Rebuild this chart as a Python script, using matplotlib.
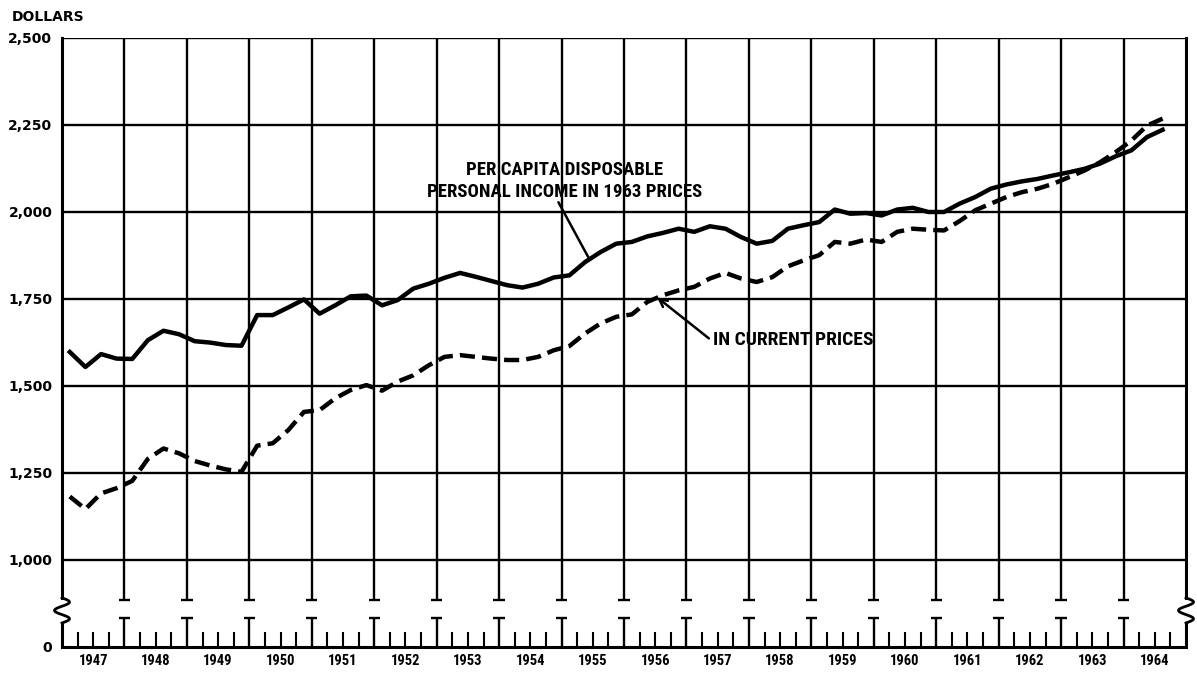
import numpy as np
import matplotlib
matplotlib.use("Agg")
import matplotlib.pyplot as plt
from matplotlib import font_manager

# quarterly per capita disposable personal income, 1947 Q1 - 1964 Q3 (dollars)
first_year = 1947
last_year = 1964
income_1963_prices = [
    1597, 1554, 1591, 1578,
    1577, 1631, 1658, 1648,
    1628, 1624, 1617, 1615,
    1703, 1703, 1725, 1748,
    1707, 1731, 1757, 1759,
    1731, 1746, 1779, 1793,
    1810, 1824, 1813, 1801,
    1789, 1782, 1793, 1811,
    1817, 1855, 1884, 1908,
    1913, 1929, 1939, 1951,
    1942, 1958, 1951, 1927,
    1908, 1916, 1951, 1961,
    1970, 2006, 1994, 1996,
    1989, 2006, 2011, 1999,
    1999, 2023, 2042, 2066,
    2078, 2087, 2094, 2104,
    2113, 2123, 2138, 2159,
    2176, 2214, 2235,
]
income_current_prices = [
    1182, 1146, 1191, 1206,
    1227, 1290, 1320, 1306,
    1284, 1271, 1260, 1253,
    1328, 1335, 1373, 1425,
    1430, 1464, 1488, 1502,
    1486, 1512, 1530, 1559,
    1583, 1588, 1583, 1578,
    1574, 1574, 1583, 1602,
    1614, 1650, 1679, 1698,
    1705, 1741, 1760, 1774,
    1784, 1808, 1824, 1808,
    1798, 1812, 1843, 1860,
    1875, 1913, 1908, 1920,
    1913, 1942, 1951, 1948,
    1946, 1973, 2004, 2023,
    2042, 2056, 2066, 2080,
    2099, 2118, 2142, 2171,
    2204, 2247, 2267,
]
grid_values = [1000, 1250, 1500, 1750, 2000, 2250, 2500]
tick_labels = ["0", "1,000", "1,250", "1,500", "1,750", "2,000", "2,250", "2,500"]
year_labels = [str(y) for y in range(first_year, last_year + 1)]

# the axis is broken: "0" sits one grid step below 1,000
ZERO_POS = 750
BREAK_TOP = 891
BREAK_BOT = 819

# pick the narrowest face we have for the condensed lettering
installed = {f.name for f in font_manager.fontManager.ttflist}
narrow = 'DejaVu Sans'
for cand in ['Liberation Sans Narrow', 'DejaVu Sans Condensed', 'Roboto Condensed', 'Roboto']:
    if cand in installed:
        narrow = cand
        break
narrow = [narrow, 'DejaVu Sans']

fig = plt.figure(figsize=(11.97, 6.74), dpi=100)
ax = fig.add_axes([62 / 1197, 1 - 647 / 674, 1124 / 1197, (647 - 37.5) / 674])
ax.set_xlim(first_year, last_year + 1)
ax.set_ylim(ZERO_POS, 2500)
for s in ax.spines.values():
    s.set_visible(False)

x = first_year + (np.arange(len(income_1963_prices)) + 0.5) / 4

# horizontal rules
ax.hlines(grid_values, first_year, last_year + 1, color='black', lw=1.7, zorder=1)
ax.hlines(ZERO_POS, first_year, last_year + 1, color='black', lw=2.2, zorder=1, clip_on=False)

# year rules with small feet
year_bounds = np.arange(first_year + 1, last_year + 1)
ax.vlines(year_bounds, 885, 2500, color='black', lw=1.7, zorder=1)
ax.hlines(np.full(len(year_bounds), 885), year_bounds - 0.09, year_bounds + 0.09, color='black', lw=1.7)
# T marks on the zero axis
ax.vlines(year_bounds, ZERO_POS, 834, color='black', lw=1.7, clip_on=False)
ax.hlines(np.full(len(year_bounds), 834), year_bounds - 0.09, year_bounds + 0.09, color='black', lw=1.7)
quarter_ticks = [y + q / 4 for y in range(first_year, last_year + 1) for q in (1, 2, 3)]
ax.vlines(quarter_ticks, ZERO_POS, 793, color='black', lw=1.5, clip_on=False)

# side axes with break wiggle
t = np.linspace(0, 1, 60)
for xe in (first_year, last_year + 1):
    ax.plot([xe, xe], [BREAK_TOP, 2500], color='black', lw=2.2, clip_on=False, solid_capstyle='projecting')
    ax.plot([xe, xe], [ZERO_POS, BREAK_BOT], color='black', lw=2.2, clip_on=False)
    ax.plot(xe + 0.12 * np.sin(3 * np.pi * t), BREAK_TOP - t * (BREAK_TOP - BREAK_BOT),
            color='black', lw=2.0, clip_on=False)

# the two series
ax.plot(x, income_1963_prices, color='black', lw=3.2, zorder=3, solid_joinstyle='round')
dashed, = ax.plot(x, income_current_prices, color='black', lw=3.2, zorder=3)
dashed.set_dashes((3.4, 1.6))

# ticks
ax.set_yticks([ZERO_POS] + grid_values)
ax.set_yticklabels(tick_labels, fontsize=10, fontweight='bold')
ax.set_xticks(np.arange(first_year, last_year + 1) + 0.5)
ax.set_xticklabels(year_labels, fontsize=10.5, fontweight='heavy', family=narrow)
ax.tick_params(axis='y', length=0, pad=7)
ax.tick_params(axis='x', length=0, pad=5)

fig.text(12 / 1197, 1 - 17 / 674, "DOLLARS", fontsize=10, fontweight='bold', ha='left', va='center')

# annotations
ax.text(1955.05, 2088, "PER CAPITA DISPOSABLE\nPERSONAL INCOME IN 1963 PRICES",
        ha='center', va='center', fontsize=13.5, fontweight='heavy', family=narrow,
        linespacing=1.35)
ax.annotate("", xy=(1955.45, 1862), xytext=(1954.95, 2027),
            arrowprops=dict(arrowstyle='-', color='black', lw=1.8, shrinkA=0, shrinkB=0))
ax.text(1957.43, 1632, "IN CURRENT PRICES",
        ha='left', va='center', fontsize=14, fontweight='heavy', family=narrow)
ax.annotate("", xy=(1956.53, 1754), xytext=(1957.36, 1636),
            arrowprops=dict(arrowstyle='->', color='black', lw=1.8, shrinkA=0, shrinkB=0,
                            mutation_scale=14))

fig.savefig("out.png", dpi=100)
